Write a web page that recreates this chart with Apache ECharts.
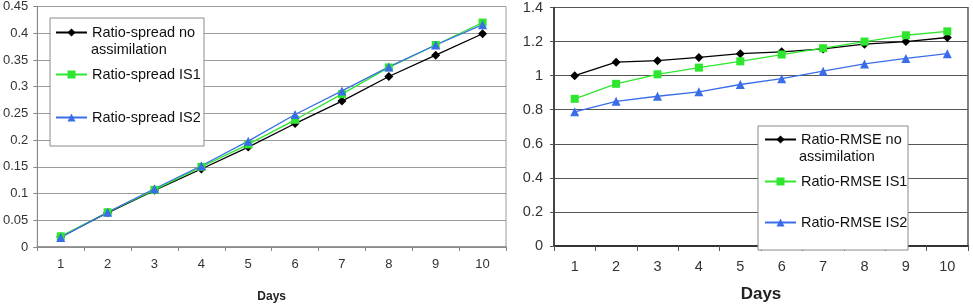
<!DOCTYPE html>
<html>
<head>
<meta charset="utf-8">
<script src="https://cdn.jsdelivr.net/npm/echarts@6/dist/echarts.min.js"></script>
<style>
  html, body { margin: 0; padding: 0; background: #fff; }
  #chart { width: 973px; height: 308px; }
</style>
</head>
<body>
<div id="chart"></div>
<script>
const days = ['1', '2', '3', '4', '5', '6', '7', '8', '9', '10'];

// left panel: ratio-spread
const spreadNoAssim = [0.019, 0.064, 0.106, 0.146, 0.187, 0.231, 0.273, 0.319, 0.359, 0.399];
const spreadIS1 = [0.020, 0.065, 0.107, 0.150, 0.192, 0.238, 0.286, 0.336, 0.378, 0.420];
const spreadIS2 = [0.018, 0.065, 0.109, 0.152, 0.198, 0.248, 0.292, 0.337, 0.378, 0.416];

// right panel: ratio-RMSE
const rmseNoAssim = [1.000, 1.079, 1.088, 1.107, 1.129, 1.140, 1.157, 1.185, 1.200, 1.224];
const rmseIS1 = [0.864, 0.952, 1.008, 1.047, 1.084, 1.124, 1.161, 1.200, 1.237, 1.260];
const rmseIS2 = [0.788, 0.849, 0.879, 0.905, 0.948, 0.982, 1.026, 1.069, 1.101, 1.129];

const FONT = "'Liberation Sans', Arial, sans-serif";
const BLACK = '#000000';
const GREEN = '#2ee62e';
const BLUE = '#3a6ee8';

function lineSeries(name, data, color, symbol, size, idx) {
  return {
    name: name,
    type: 'line',
    data: data,
    xAxisIndex: idx,
    yAxisIndex: idx,
    symbol: symbol,
    symbolSize: size,
    showAllSymbol: true,
    itemStyle: { color: color },
    lineStyle: { color: color, width: 1.3 },
    emphasis: { disabled: true },
    animation: false
  };
}

function legendItem(name, label, left, top) {
  return {
    data: [name],
    left: left,
    top: top,
    padding: 0,
    itemWidth: 31,
    itemHeight: 10,
    formatter: function () { return label; },
    textStyle: { fontFamily: FONT, fontSize: 14.5, color: '#111' },
    selectedMode: false,
    z: 10
  };
}

const chart = echarts.init(document.getElementById('chart'), null, { renderer: 'canvas' });

const option = {
  backgroundColor: '#fff',
  animation: false,
  grid: [
    { left: 33, top: 4, width: 473, height: 253, show: true, borderColor: '#9a9a9a', borderWidth: 1, backgroundColor: 'transparent' },
    { left: 554, top: 6, width: 414, height: 250, show: true, borderColor: '#333', borderWidth: 1.2, backgroundColor: 'transparent' }
  ],
  xAxis: [
    {
      gridIndex: 0,
      type: 'category',
      data: days,
      boundaryGap: true,
      axisLine: { lineStyle: { color: '#888', width: 1.5 } },
      axisTick: { show: true, alignWithLabel: false, length: 4, lineStyle: { color: '#888' } },
      axisLabel: { fontFamily: FONT, fontSize: 13, color: '#333', margin: 11 },
      name: 'Days',
      nameLocation: 'middle',
      nameGap: 44,
      nameTextStyle: { fontFamily: FONT, fontSize: 12, fontWeight: 'bold', color: '#222' }
    },
    {
      gridIndex: 1,
      type: 'category',
      data: days,
      boundaryGap: true,
      axisLine: { lineStyle: { color: '#333', width: 2 } },
      axisTick: { show: true, alignWithLabel: false, length: 5, lineStyle: { color: '#555' } },
      axisLabel: { fontFamily: FONT, fontSize: 14.5, color: '#333', margin: 13 },
      name: 'Days',
      nameLocation: 'middle',
      nameGap: 40,
      nameTextStyle: { fontFamily: FONT, fontSize: 17, fontWeight: 'bold', color: '#222' }
    }
  ],
  yAxis: [
    {
      gridIndex: 0,
      type: 'value',
      min: 0,
      max: 0.45,
      interval: 0.05,
      axisLine: { show: true, lineStyle: { color: '#888' } },
      axisTick: { show: true, length: 4, lineStyle: { color: '#888' } },
      axisLabel: { fontFamily: FONT, fontSize: 13, color: '#333', margin: 9 },
      splitLine: { show: true, lineStyle: { color: '#9a9a9a', width: 1 } }
    },
    {
      gridIndex: 1,
      type: 'value',
      min: 0,
      max: 1.4,
      interval: 0.2,
      axisLine: { show: true, lineStyle: { color: '#333', width: 1.5 } },
      axisTick: { show: true, length: 4, lineStyle: { color: '#555' } },
      axisLabel: { fontFamily: FONT, fontSize: 14.5, color: '#333', margin: 11 },
      splitLine: { show: true, lineStyle: { color: '#555', width: 1 } }
    }
  ],
  legend: [
    legendItem('Ratio-spread no assimilation', 'Ratio-spread no', 55, 25),
    legendItem('Ratio-spread IS1', 'Ratio-spread IS1', 55, 67),
    legendItem('Ratio-spread IS2', 'Ratio-spread IS2', 55, 110),
    legendItem('Ratio-RMSE no assimilation', 'Ratio-RMSE no', 764, 132),
    legendItem('Ratio-RMSE IS1', 'Ratio-RMSE IS1', 764, 174),
    legendItem('Ratio-RMSE IS2', 'Ratio-RMSE IS2', 764, 215)
  ],
  graphic: [
    {
      type: 'rect', z: 5,
      shape: { x: 50, y: 18, width: 154, height: 128 },
      style: { fill: '#fff', stroke: '#8a8a8a', lineWidth: 1 }
    },
    {
      type: 'text', z: 11, left: 91, top: 42,
      style: { text: 'assimilation', fontFamily: FONT, fontSize: 14.5, fill: '#111' }
    },
    {
      type: 'rect', z: 5,
      shape: { x: 758, y: 126, width: 150, height: 124 },
      style: { fill: '#fff', stroke: '#8a8a8a', lineWidth: 1 }
    },
    {
      type: 'text', z: 11, left: 799, top: 149,
      style: { text: 'assimilation', fontFamily: FONT, fontSize: 14.5, fill: '#111' }
    }
  ],
  series: [
    lineSeries('Ratio-spread no assimilation', spreadNoAssim, BLACK, 'diamond', 9, 0),
    lineSeries('Ratio-spread IS1', spreadIS1, GREEN, 'rect', 8, 0),
    lineSeries('Ratio-spread IS2', spreadIS2, BLUE, 'triangle', 9, 0),
    lineSeries('Ratio-RMSE no assimilation', rmseNoAssim, BLACK, 'diamond', 9, 1),
    lineSeries('Ratio-RMSE IS1', rmseIS1, GREEN, 'rect', 8, 1),
    lineSeries('Ratio-RMSE IS2', rmseIS2, BLUE, 'triangle', 9, 1)
  ]
};

chart.setOption(option);
</script>
</body>
</html>
